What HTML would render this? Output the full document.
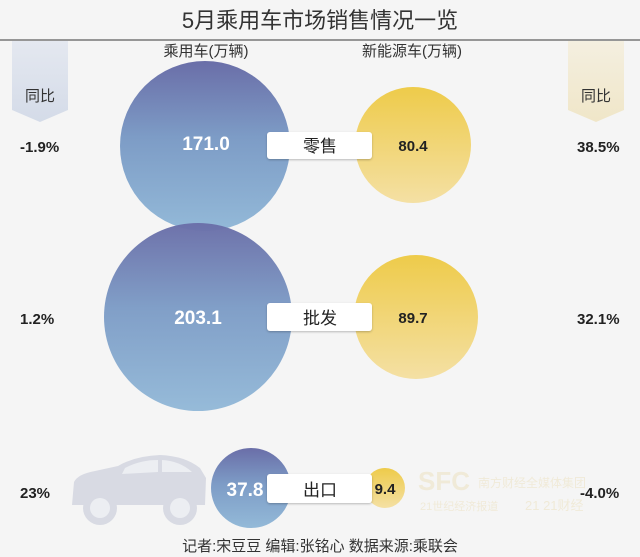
<!DOCTYPE html>
<html><head><meta charset="utf-8"><style>
body{margin:0;width:640px;height:557px;background:#f5f5f5;overflow:hidden;font-family:"Liberation Sans","Noto Sans CJK SC",sans-serif;}
</style></head><body>
<svg width="640" height="557" xmlns="http://www.w3.org/2000/svg" style="position:absolute;left:0;top:0">
<defs>
<linearGradient id="b" x1="0" y1="0" x2="0" y2="1"><stop offset="0" stop-color="#6a6ea8"/><stop offset="0.45" stop-color="#7d9cc6"/><stop offset="1" stop-color="#93b9d8"/></linearGradient>
<linearGradient id="y" x1="0" y1="0" x2="0" y2="1"><stop offset="0" stop-color="#eecb4a"/><stop offset="1" stop-color="#f4e0a4"/></linearGradient>
<linearGradient id="lb" x1="0" y1="0" x2="0" y2="1"><stop offset="0" stop-color="#e4e8f0"/><stop offset="1" stop-color="#d4dbe8"/></linearGradient>
<linearGradient id="rb" x1="0" y1="0" x2="0" y2="1"><stop offset="0" stop-color="#f4efe0"/><stop offset="1" stop-color="#f0e6c8"/></linearGradient>
<filter id="s"><feDropShadow dx="0" dy="1" stdDeviation="1" flood-color="#000" flood-opacity="0.25"/></filter>
</defs>
<text x="320" y="28" text-anchor="middle" font-size="22" fill="#333">5月乘用车市场销售情况一览</text>
<line x1="0" y1="40" x2="640" y2="40" stroke="#777" stroke-width="1.5"/>
<path d="M12 41 H68 V110 L40 122 L12 110 Z" fill="url(#lb)"/>
<path d="M568 41 H624 V110 L596 122 L568 110 Z" fill="url(#rb)"/>
<text x="40" y="101" text-anchor="middle" font-size="15" fill="#333">同比</text>
<text x="596" y="101" text-anchor="middle" font-size="15" fill="#333">同比</text>
<text x="206" y="56" text-anchor="middle" font-size="15" fill="#333">乘用车(万辆)</text>
<text x="412" y="56" text-anchor="middle" font-size="15" fill="#333">新能源车(万辆)</text>
<!-- car -->
<path d="M72 505 L74 482 Q78 474 95 471 L118 466 Q135 456 160 455 Q185 456 200 468 L206 478 L205 505 Z" fill="#d8dae3"/>
<circle cx="100" cy="508" r="17" fill="#d8dae3"/><circle cx="100" cy="508" r="10" fill="#eceef2"/>
<circle cx="180" cy="508" r="17" fill="#d8dae3"/><circle cx="180" cy="508" r="10" fill="#eceef2"/>
<path d="M125 468 Q140 460 158 460 L158 472 L122 474 Z M162 460 Q180 461 192 472 L162 472 Z" fill="#eceef2"/>
<!-- watermark -->
<text x="418" y="490" font-size="26" font-weight="bold" fill="#f0ead8">SFC</text>
<text x="478" y="487" font-size="12" fill="#f0ead8">南方财经全媒体集团</text>
<text x="420" y="510" font-size="11" fill="#f0ead8">21世纪经济报道</text>
<text x="525" y="510" font-size="13" fill="#f0ead8">21 21财经</text>
<circle cx="205" cy="146" r="85" fill="url(#b)"/>
<circle cx="198" cy="317" r="94" fill="url(#b)" opacity="0.97"/>
<circle cx="251" cy="488" r="40" fill="url(#b)"/>
<circle cx="413" cy="145" r="58" fill="url(#y)"/>
<circle cx="416" cy="317" r="62" fill="url(#y)"/>
<circle cx="385" cy="488" r="20" fill="url(#y)"/>
<rect x="267" y="132" width="105" height="27" rx="3" fill="#fff" filter="url(#s)"/>
<rect x="267" y="303" width="105" height="28" rx="3" fill="#fff" filter="url(#s)"/>
<rect x="267" y="474" width="105" height="29" rx="3" fill="#fff" filter="url(#s)"/>
<g font-size="17" fill="#222" text-anchor="middle">
<text x="320" y="152">零售</text><text x="320" y="324">批发</text><text x="320" y="496">出口</text></g>
<g font-size="19" fill="#fff" text-anchor="middle" font-weight="bold">
<text x="206" y="150">171.0</text><text x="198" y="324">203.1</text><text x="245" y="496">37.8</text></g>
<g font-size="15" fill="#222" text-anchor="middle" font-weight="bold">
<text x="413" y="151">80.4</text><text x="413" y="323">89.7</text><text x="385" y="494">9.4</text></g>
<g font-size="15" fill="#222" font-weight="bold">
<text x="20" y="152">-1.9%</text><text x="20" y="324">1.2%</text><text x="20" y="498">23%</text>
<text x="577" y="152">38.5%</text><text x="577" y="324">32.1%</text><text x="580" y="498">-4.0%</text></g>
<text x="320" y="551" text-anchor="middle" font-size="15" fill="#333">记者:宋豆豆 编辑:张铭心 数据来源:乘联会</text>
</svg>
</body></html>
